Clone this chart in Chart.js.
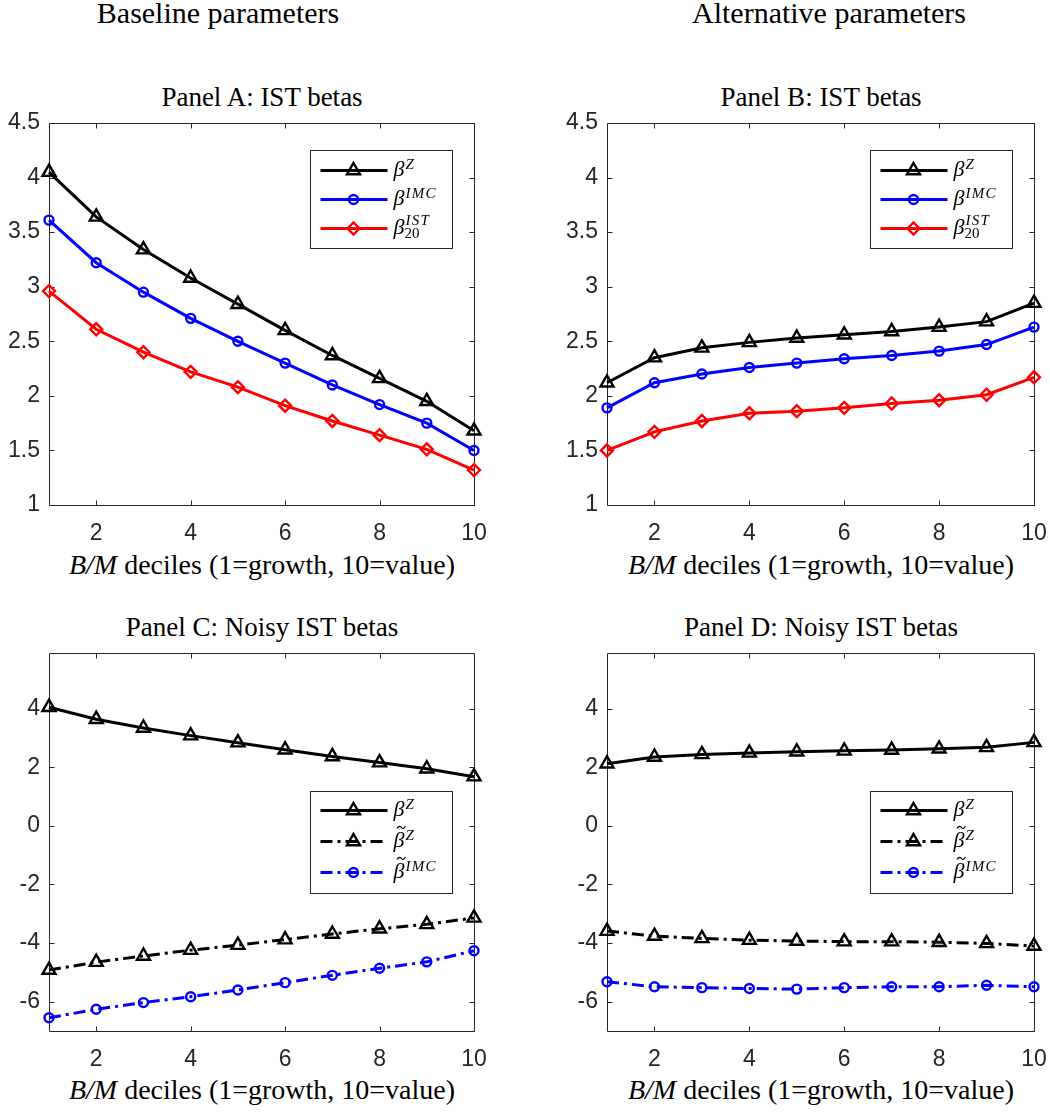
<!DOCTYPE html>
<html>
<head>
<meta charset="utf-8">
<script src="https://cdn.jsdelivr.net/npm/chart.js@4/dist/chart.umd.min.js"></script>
<style>
body { margin:0; width:1050px; height:1116px; background:#fff; position:relative; overflow:hidden; }
.t { position:absolute; font-family:'Liberation Serif', serif; color:#000; white-space:nowrap; line-height:1; transform:translateX(-50%); }
.hdr { font-size:30px; }
.ttl { font-size:27px; }
.xl { font-size:28px; }
canvas { position:absolute; }
</style>
</head>
<body>
<div class="t hdr" style="left:218px; top:-2px;">Baseline parameters</div>
<div class="t hdr" style="left:829px; top:-2px;">Alternative parameters</div>
<div class="t ttl" style="left:262px; top:84px;">Panel A: IST betas</div>
<div class="t ttl" style="left:821px; top:84px;">Panel B: IST betas</div>
<div class="t ttl" style="left:262px; top:614px;">Panel C: Noisy IST betas</div>
<div class="t ttl" style="left:821px; top:614px;">Panel D: Noisy IST betas</div>
<div class="t xl" style="left:262px; top:551px;"><i>B/M</i> deciles (1=growth, 10=value)</div>
<div class="t xl" style="left:821px; top:551px;"><i>B/M</i> deciles (1=growth, 10=value)</div>
<div class="t xl" style="left:262px; top:1076px;"><i>B/M</i> deciles (1=growth, 10=value)</div>
<div class="t xl" style="left:821px; top:1076px;"><i>B/M</i> deciles (1=growth, 10=value)</div>

<canvas id="panelA" width="525" height="450" style="left:0px; top:100px;"></canvas>
<canvas id="panelB" width="540" height="450" style="left:525px; top:100px;"></canvas>
<canvas id="panelC" width="525" height="440" style="left:0px; top:630px;"></canvas>
<canvas id="panelD" width="540" height="440" style="left:525px; top:630px;"></canvas>

<script>
// B/M deciles
var deciles = [1, 2, 3, 4, 5, 6, 7, 8, 9, 10];
var xTicks = [2, 4, 6, 8, 10];
var yTicksIST = [1, 1.5, 2, 2.5, 3, 3.5, 4, 4.5];
var yTicksNoisy = [-6, -4, -2, 0, 2, 4];

// baseline parameters
var betaZBase   = [4.05, 3.64, 3.34, 3.08, 2.84, 2.60, 2.37, 2.16, 1.95, 1.68];
var betaIMCBase = [3.61, 3.22, 2.95, 2.71, 2.50, 2.30, 2.10, 1.92, 1.75, 1.50];
var betaISTBase = [2.96, 2.61, 2.40, 2.22, 2.08, 1.91, 1.77, 1.64, 1.51, 1.32];
var noisyZBase   = [-4.92, -4.65, -4.44, -4.24, -4.07, -3.88, -3.69, -3.51, -3.36, -3.14];
var noisyIMCBase = [-6.55, -6.26, -6.03, -5.83, -5.60, -5.35, -5.10, -4.86, -4.64, -4.26];

// alternative parameters
var betaZAlt   = [2.12, 2.35, 2.44, 2.49, 2.53, 2.56, 2.59, 2.63, 2.68, 2.85];
var betaIMCAlt = [1.89, 2.12, 2.20, 2.26, 2.30, 2.34, 2.37, 2.41, 2.47, 2.63];
var betaISTAlt = [1.50, 1.67, 1.77, 1.84, 1.86, 1.89, 1.93, 1.96, 2.01, 2.17];
var noisyZAlt   = [-3.59, -3.76, -3.84, -3.90, -3.93, -3.95, -3.95, -3.97, -4.01, -4.10];
var noisyIMCAlt = [-5.32, -5.49, -5.52, -5.55, -5.57, -5.52, -5.49, -5.49, -5.44, -5.49];

var dashDot = [12, 5, 3, 5];
var markerSize = { triangle: 7.5, circle: 4.5, rectRot: 6 };
var axisColor = '#262626';

function series(values, color, marker, dashed, sup, sub, tilde) {
    return {
        data: values.map(function(v, i){ return { x: deciles[i], y: v }; }),
        borderColor: color,
        borderWidth: 3,
        borderDash: dashed ? dashDot : [],
        pointStyle: marker,
        pointRadius: markerSize[marker],
        pointBorderWidth: 2.4,
        pointBackgroundColor: 'rgba(0,0,0,0)',
        pointBorderColor: color,
        tension: 0,
        clip: false,
        fill: false,
        sup: sup, sub: sub, tilde: tilde, dashed: dashed
    };
}

// box with inward tick marks, MATLAB style
var frame = {
    id: 'frame',
    beforeDatasetsDraw: function(chart){
        var a = chart.chartArea, ctx = chart.ctx;
        var xs = chart.scales.x, ys = chart.scales.y;
        var L = Math.round(a.left) + 0.5, R = Math.round(a.right) + 0.5;
        var T = Math.round(a.top) + 0.5, B = Math.round(a.bottom) + 0.5;
        ctx.save();
        ctx.strokeStyle = axisColor;
        ctx.lineWidth = 1;
        ctx.beginPath();
        ctx.rect(L, T, R - L, B - T);
        xs.ticks.forEach(function(t){
            var px = Math.round(xs.getPixelForValue(t.value)) + 0.5;
            ctx.moveTo(px, B); ctx.lineTo(px, B - 5);
            ctx.moveTo(px, T); ctx.lineTo(px, T + 5);
        });
        ys.ticks.forEach(function(t){
            var py = Math.round(ys.getPixelForValue(t.value)) + 0.5;
            ctx.moveTo(L, py); ctx.lineTo(L + 5, py);
            ctx.moveTo(R, py); ctx.lineTo(R - 5, py);
        });
        ctx.stroke();
        ctx.restore();
    }
};

function drawLabel(ctx, x, y, ds){
    ctx.fillStyle = '#000';
    ctx.textBaseline = 'alphabetic';
    ctx.textAlign = 'left';
    ctx.font = 'italic 22px "Liberation Serif"';
    ctx.fillText('\u03b2', x, y + 5);
    var w = ctx.measureText('\u03b2').width;
    if (ds.tilde) {
        ctx.save();
        ctx.strokeStyle = '#000';
        ctx.lineWidth = 1.2;
        ctx.beginPath();
        var cx = x + w / 2 + 2, cy = y - 14;
        ctx.moveTo(cx - 4, cy + 1);
        ctx.bezierCurveTo(cx - 2, cy - 2.5, cx, cy - 1, cx + 0.5, cy);
        ctx.bezierCurveTo(cx + 1.5, cy + 1.5, cx + 3, cy + 1.5, cx + 4.5, cy - 1.5);
        ctx.stroke();
        ctx.restore();
    }
    ctx.font = 'italic 15px "Liberation Serif"';
    var sup = ds.sup.split('').join('\u200a');
    ctx.fillText(sup, x + w + 1, y - (ds.sub ? 4 : 2));
    if (ds.sub) {
        ctx.font = '15px "Liberation Serif"';
        ctx.fillText(ds.sub, x + w, y + 9);
    }
}

// legend box inside the axes
var betaLegend = {
    id: 'betaLegend',
    afterDatasetsDraw: function(chart, args, opts){
        var a = chart.chartArea, ctx = chart.ctx;
        var left = Math.round(a.right) - 164 + 0.5, top = Math.round(a.top) + opts.top + 0.5;
        ctx.save();
        ctx.fillStyle = '#fff';
        ctx.strokeStyle = axisColor;
        ctx.lineWidth = 1;
        ctx.fillRect(left, top, 142, opts.height);
        ctx.strokeRect(left, top, 142, opts.height);
        chart.data.datasets.forEach(function(ds, i){
            var y = top + opts.rows[i];
            ctx.strokeStyle = ds.borderColor;
            ctx.lineWidth = 3;
            ctx.setLineDash(ds.dashed ? dashDot : []);
            ctx.beginPath();
            ctx.moveTo(left + 10, y);
            ctx.lineTo(left + 77, y);
            ctx.stroke();
            ctx.setLineDash([]);
            ctx.fillStyle = 'rgba(0,0,0,0)';
            ctx.lineWidth = 2.4;
            Chart.helpers.drawPoint(ctx, { pointStyle: ds.pointStyle, radius: ds.pointRadius, borderWidth: 2.4, rotation: 0 }, left + 43, y);
            drawLabel(ctx, left + 83, y, ds);
        });
        ctx.restore();
    }
};

function makeChart(id, datasets, yMin, yMax, yTicks, yWidth, pad, legendOpts){
    return new Chart(document.getElementById(id), {
        type: 'line',
        data: { datasets: datasets },
        options: {
            responsive: false,
            animation: false,
            layout: { padding: pad },
            plugins: { legend: { display: false }, tooltip: { enabled: false }, betaLegend: legendOpts },
            scales: {
                x: {
                    type: 'linear', min: 1, max: 10,
                    grid: { display: false, drawTicks: false },
                    border: { display: false },
                    afterBuildTicks: function(s){ s.ticks = xTicks.map(function(v){ return { value: v }; }); },
                    afterFit: function(s){ s.height = 38; },
                    ticks: { color: axisColor, padding: 15, maxRotation: 0, font: { family: 'Liberation Sans', size: 23 }, callback: function(v){ return String(v); } }
                },
                y: {
                    min: yMin, max: yMax,
                    grid: { display: false, drawTicks: false },
                    border: { display: false },
                    afterBuildTicks: function(s){ s.ticks = yTicks.map(function(v){ return { value: v }; }); },
                    afterFit: function(s){ s.width = yWidth; },
                    ticks: { color: axisColor, padding: 9, font: { family: 'Liberation Sans', size: 23 }, callback: function(v){ return String(v); } }
                }
            }
        },
        plugins: [frame, betaLegend]
    });
}

var legendIST = { top: 27, height: 98, rows: [20, 49, 78] };
var legendNoisy = { top: 138, height: 102, rows: [19, 50, 81] };

makeChart('panelA', [
    series(betaZBase, '#000000', 'triangle', false, 'Z'),
    series(betaIMCBase, '#0000ff', 'circle', false, 'IMC'),
    series(betaISTBase, '#ff0000', 'rectRot', false, 'IST', '20')
], 1, 4.5, yTicksIST, 49, { left: 0, top: 23, right: 51, bottom: 7 }, legendIST);

makeChart('panelB', [
    series(betaZAlt, '#000000', 'triangle', false, 'Z'),
    series(betaIMCAlt, '#0000ff', 'circle', false, 'IMC'),
    series(betaISTAlt, '#ff0000', 'rectRot', false, 'IST', '20')
], 1, 4.5, yTicksIST, 82, { left: 0, top: 23, right: 31, bottom: 7 }, legendIST);

makeChart('panelC', [
    series(betaZBase, '#000000', 'triangle', false, 'Z'),
    series(noisyZBase, '#000000', 'triangle', true, 'Z', null, true),
    series(noisyIMCBase, '#0000ff', 'circle', true, 'IMC', null, true)
], -7, 5.9, yTicksNoisy, 49, { left: 0, top: 23, right: 51, bottom: 1 }, legendNoisy);

makeChart('panelD', [
    series(betaZAlt, '#000000', 'triangle', false, 'Z'),
    series(noisyZAlt, '#000000', 'triangle', true, 'Z', null, true),
    series(noisyIMCAlt, '#0000ff', 'circle', true, 'IMC', null, true)
], -7, 5.9, yTicksNoisy, 82, { left: 0, top: 23, right: 31, bottom: 1 }, legendNoisy);
</script>
</body>
</html>
